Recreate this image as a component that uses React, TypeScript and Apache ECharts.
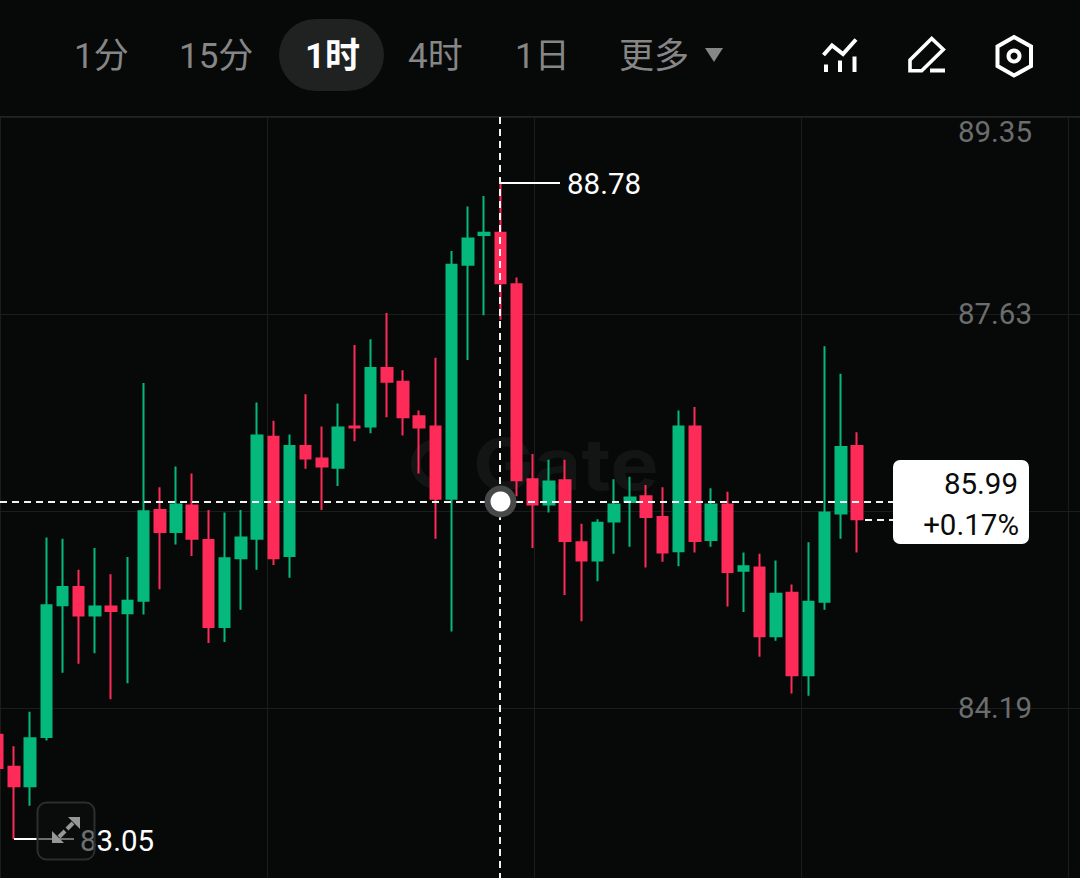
import React, { useEffect, useRef } from "react";
import * as echarts from "echarts";

const opens = [83.96,83.68,83.51,83.94,85.09,85.25,85.00,85.08,85.02,85.13,85.92,85.73,85.96,85.66,84.90,85.50,85.67,86.56,85.52,86.48,86.37,86.29,86.65,86.65,87.16,87.04,86.74,86.65,86.02,88.06,88.32,88.34,87.89,86.19,85.97,86.18,85.64,85.48,85.82,85.99,86.04,85.86,85.56,86.65,85.66,85.97,85.39,85.42,84.82,85.20,84.48,85.12,85.89,86.48];
const closes = [83.67,83.51,83.93,85.09,85.25,85.00,85.08,85.04,85.13,85.91,85.73,85.97,85.67,84.90,85.50,85.68,86.57,85.50,86.48,86.37,86.30,86.64,86.64,87.16,87.04,86.73,86.64,86.02,88.06,88.29,88.34,87.90,86.18,85.97,86.17,85.65,85.48,85.81,85.97,86.03,85.86,85.55,86.65,85.65,85.97,85.38,85.43,84.82,85.19,84.48,85.12,85.90,86.47,85.84];
const lows = [83.60,83.05,83.34,83.91,84.50,84.58,84.67,84.27,84.41,85.01,85.23,85.62,85.52,84.76,84.77,85.05,85.40,85.44,85.33,86.28,85.92,86.13,86.52,86.59,86.73,86.57,86.24,85.67,84.86,87.23,87.62,87.58,86.04,85.59,85.90,85.18,84.95,85.30,85.54,85.60,85.42,85.47,85.43,85.55,85.60,85.08,85.03,84.64,84.78,84.32,84.30,85.05,85.67,85.55];
const highs = [84.00,83.86,84.16,85.68,85.67,85.40,85.59,85.36,85.51,87.03,86.12,86.30,86.24,85.92,85.90,85.92,86.86,86.70,86.58,86.93,86.65,86.85,87.36,87.41,87.64,87.14,86.79,87.25,88.18,88.57,88.66,88.78,87.95,86.41,86.36,86.36,85.80,85.84,86.19,86.21,86.14,86.12,86.79,86.82,86.11,86.08,85.55,85.54,85.48,85.27,85.64,87.35,87.11,86.60];

const slotCount = 68;
const gridTicks = [84.19, 85.91, 87.63, 89.35];
const priceLabels = [84.19, 87.63, 89.35];
const tabs = ["1分", "15分", "1时", "4时", "1日", "更多"];
const crosshairPrice = 85.99;
const crosshairChange = "+0.17%";
const lastClose = 85.84;
const highestPrice = 88.78;
const lowestPrice = 83.05;

const UP = "#05B97C";
const DOWN = "#FE2B59";
const BG = "#070808";
const GRID = "#1B1C1C";
const FONT = 'Roboto, "Noto Sans CJK SC", sans-serif';

export default function App() {
  const ref = useRef<HTMLDivElement>(null);
  useEffect(() => {
    if (!ref.current) return;
    const chart = echarts.init(ref.current, undefined, { renderer: "svg" });
    const tabX = [74, 179, 305, 408, 515, 619];
    const ui: any[] = [];
    const white = { stroke: "#fff", lineWidth: 4, fill: "none" };
    // watermark
    ui.push({ type: "text", z: 1, x: 473, y: 464, style: { text: "Gate", fill: "#131414", fontSize: 72, fontWeight: 700, fontFamily: "Inter", textVerticalAlign: "middle" } , scaleX: 1.13 });
    ui.push({ type: "arc", z: 1, shape: { cx: 436, cy: 464, r: 20, startAngle: 1.4, endAngle: 4.9 }, style: { stroke: "#131414", lineWidth: 10, fill: "none" } });
    // header
    ui.push({ type: "rect", z: 50, shape: { x: 279, y: 19, width: 105, height: 72, r: 36 }, style: { fill: "#202121" } });
    tabs.forEach((t, i) => {
      const active = i === 2;
      ui.push({ type: "text", z: 51, x: tabX[i], y: 56, style: { text: t, fill: active ? "#fff" : "#868686", fontSize: 35, fontWeight: active ? 700 : 400, fontFamily: FONT, textVerticalAlign: "middle" } });
    });
    ui.push({ type: "polygon", z: 51, shape: { points: [[705, 48], [723, 48], [714, 62]] }, style: { fill: "#868686" } });
    // chart icon
    ui.push({ type: "polyline", z: 51, shape: { points: [[823.5, 55], [832, 45.5], [843, 54], [856, 39.5]] }, style: white });
    [[826, 64.5], [840, 60.5], [854.5, 56.5]].forEach(([x, y]) =>
      ui.push({ type: "line", z: 51, shape: { x1: x, y1: y, x2: x, y2: 72 }, style: white })
    );
    // pen icon
    ui.push({ type: "polygon", z: 51, shape: { points: [[910, 60], [931.7, 38.5], [943.3, 49.5], [921.7, 70.7], [910, 70.7]] }, style: { stroke: "#fff", lineWidth: 3.6, fill: "none" } });
    ui.push({ type: "line", z: 51, shape: { x1: 930, y1: 70.5, x2: 945, y2: 70.5 }, style: white });
    // settings icon
    ui.push({ type: "polygon", z: 51, shape: { points: [[1014, 37], [1031, 46.5], [1031, 66], [1014, 75.5], [997.5, 66], [997.5, 46.5]] }, style: white });
    ui.push({ type: "circle", z: 51, shape: { cx: 1014, cy: 56, r: 5.5 }, style: white });
    // extreme labels
    ui.push({ type: "text", z: 60, x: 567, y: 184, style: { text: highestPrice.toFixed(2), fill: "#fff", fontSize: 29.5, fontFamily: FONT, textVerticalAlign: "middle" } });
    ui.push({ type: "text", z: 60, x: 80, y: 841, style: { text: lowestPrice.toFixed(2), fill: "#fff", fontSize: 29.5, fontFamily: FONT, textVerticalAlign: "middle" } });
    // expand button
    ui.push({ type: "rect", z: 70, shape: { x: 37.5, y: 802.5, width: 57, height: 57, r: 9 }, style: { fill: "rgba(14,15,15,0.6)", stroke: "#2c2d2d", lineWidth: 2 } });
    ui.push({ type: "polygon", z: 71, shape: { points: [[68, 817], [80, 817], [80, 829]] }, style: { fill: "#979797" } });
    ui.push({ type: "polygon", z: 71, shape: { points: [[52, 831], [52, 843], [64, 843]] }, style: { fill: "#979797" } });
    ui.push({ type: "line", z: 71, shape: { x1: 67, y1: 829, x2: 73, y2: 823 }, style: { stroke: "#979797", lineWidth: 4 } });
    ui.push({ type: "line", z: 71, shape: { x1: 59, y1: 837, x2: 65, y2: 831 }, style: { stroke: "#979797", lineWidth: 4 } });
    // price box
    ui.push({ type: "rect", z: 80, shape: { x: 893, y: 460, width: 136, height: 84, r: 7 }, style: { fill: "#fff" } });
    ui.push({ type: "text", z: 81, x: 1018, y: 484, style: { text: crosshairPrice.toFixed(2), fill: "#0b0b0b", fontSize: 29.5, fontFamily: FONT, textAlign: "right", textVerticalAlign: "middle" } });
    ui.push({ type: "text", z: 81, x: 1019, y: 525, style: { text: crosshairChange, fill: "#0b0b0b", fontSize: 29.5, fontFamily: FONT, textAlign: "right", textVerticalAlign: "middle" } });
    // crosshair dot
    ui.push({ type: "circle", z: 90, shape: { cx: 500.5, cy: 501.5, r: 16 }, style: { fill: "#47484a" } });
    ui.push({ type: "circle", z: 91, shape: { cx: 500.5, cy: 501.5, r: 10 }, style: { fill: "#fff" } });
    // header rule
    ui.push({ type: "line", z: 5, shape: { x1: 0, y1: 116.5, x2: 1080, y2: 116.5 }, style: { stroke: "#222323", lineWidth: 1 } });

    const dash = { color: "#fff", width: 2, type: [7, 5] as any, opacity: 0.95 };
    const solid = { color: "#fff", width: 2, type: "solid" as any };
    chart.setOption({
      animation: false,
      backgroundColor: BG,
      grid: [
        { left: -10.45, width: slotCount * 16.214, top: 117, height: 761, outerBoundsMode: "none" },
        { left: 0, width: 1080, top: 117, height: 761, outerBoundsMode: "none" },
      ],
      xAxis: [
        { type: "category", gridIndex: 0, data: Array.from({ length: slotCount }, (_, i) => String(i)), show: false },
        { type: "value", gridIndex: 1, min: 0, max: 1080, interval: 267, axisLine: { show: false }, axisTick: { show: false }, axisLabel: { show: false }, splitLine: { show: true, lineStyle: { color: GRID, width: 1 } } },
      ],
      yAxis: [
        { type: "value", gridIndex: 0, min: 82.71, max: 89.35, show: false, splitLine: { show: false } },
        {
          type: "value", gridIndex: 1, position: "right", min: 82.71, max: 89.35,
          axisLine: { show: false },
          axisTick: { show: false, customValues: gridTicks },
          splitLine: { show: true, lineStyle: { color: GRID, width: 1 } },
          axisLabel: {
            inside: true, margin: 48, color: "#6c6d6d", fontSize: 29.5, fontFamily: "Roboto",
            customValues: priceLabels, formatter: (v: number) => v.toFixed(2),
            verticalAlignMaxLabel: "top", showMaxLabel: true, showMinLabel: true,
          },
        },
      ],
      series: [
        {
          type: "candlestick", xAxisIndex: 0, yAxisIndex: 0, z: 3, barWidth: 11,
          data: opens.map((o, i) => [o, closes[i], lows[i], highs[i]]),
          itemStyle: { color: UP, color0: DOWN, borderColor: UP, borderColor0: DOWN, borderWidth: 2 },
          silent: true,
        },
        {
          type: "line", xAxisIndex: 1, yAxisIndex: 1, z: 4, data: [], silent: true,
          markLine: {
            silent: true, symbol: "none", animation: false, label: { show: false },
            data: [
              [{ coord: [0, crosshairPrice], lineStyle: dash }, { coord: [893, crosshairPrice] }],
              [{ coord: [865, lastClose], lineStyle: dash }, { coord: [893, lastClose] }],
              [{ coord: [500, 89.35], lineStyle: dash }, { coord: [500, 82.71] }],
              [{ coord: [501, highestPrice], lineStyle: solid }, { coord: [560, highestPrice] }],
              [{ coord: [14, lowestPrice], lineStyle: solid }, { coord: [74, lowestPrice] }],
            ],
          },
        },
      ],
      graphic: { elements: ui },
    });
    return () => chart.dispose();
  }, []);
  return <div ref={ref} style={{ position: "absolute", left: 0, top: 0, width: 1080, height: 878 }} />;
}
